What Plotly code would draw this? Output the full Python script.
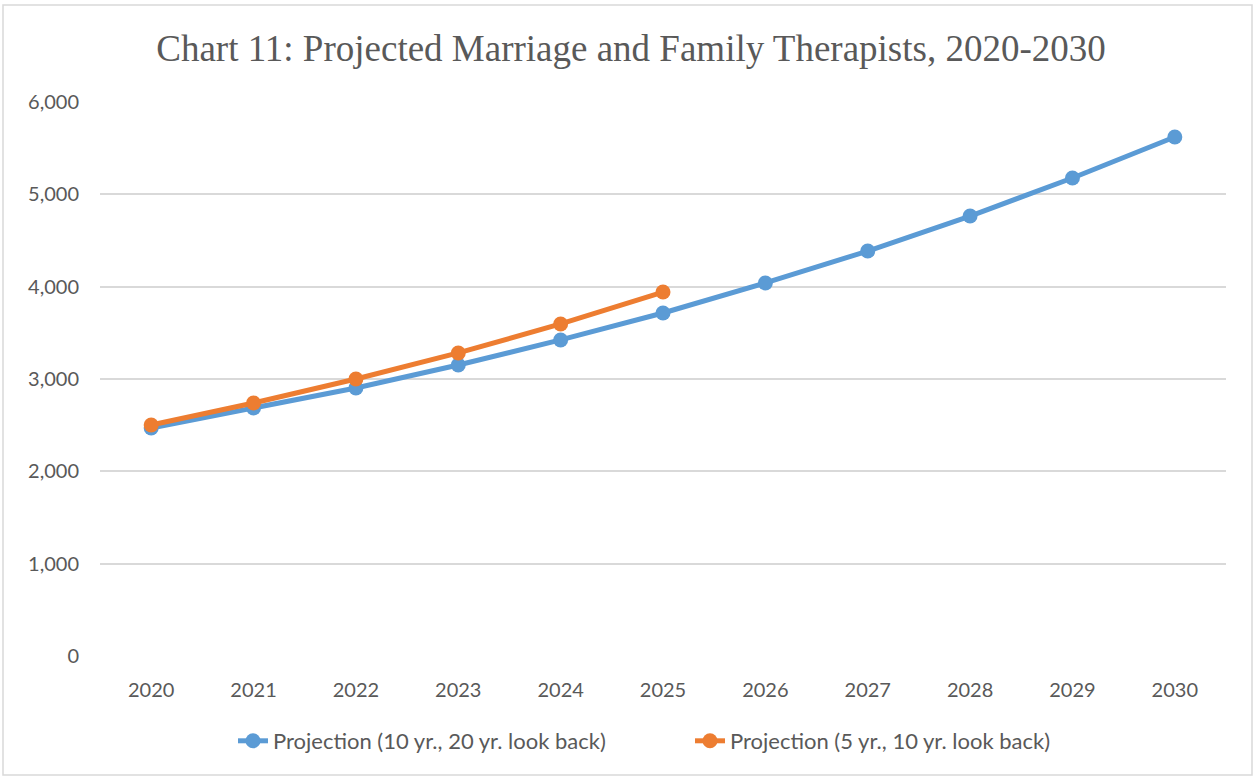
import plotly.graph_objects as go

years = ["2020", "2021", "2022", "2023", "2024", "2025", "2026", "2027", "2028", "2029", "2030"]
proj_10yr = [2469, 2686, 2903, 3152, 3423, 3715, 4040, 4386, 4765, 5177, 5621]
years_5yr = ["2020", "2021", "2022", "2023", "2024", "2025"]
proj_5yr = [2502, 2740, 3000, 3282, 3596, 3942]
y_ticks = [0, 1000, 2000, 3000, 4000, 5000, 6000]

W, H = 1253, 776
ml, mr, mt, mb = 100, 27, 102, 120
pw, ph = W - ml - mr, H - mt - mb

fig = go.Figure()
fig.add_trace(go.Scatter(
    x=years, y=proj_10yr, mode="lines+markers",
    name="Projection (10 yr., 20 yr. look back)",
    line=dict(color="#5B9BD5", width=5),
    marker=dict(color="#5B9BD5", size=15),
))
fig.add_trace(go.Scatter(
    x=years_5yr, y=proj_5yr, mode="lines+markers",
    name="Projection (5 yr., 10 yr. look back)",
    line=dict(color="#ED7D31", width=5),
    marker=dict(color="#ED7D31", size=15),
))

def px_x(p):
    return (p - ml) / pw

def px_y(p):
    return 1 - (p - mt) / ph

fig.update_layout(
    width=W, height=H,
    margin=dict(l=ml, r=mr, t=mt, b=mb),
    paper_bgcolor="white", plot_bgcolor="white",
    title=dict(
        text="Chart 11: Projected Marriage and Family Therapists, 2020-2030",
        font=dict(family="Liberation Serif, Times New Roman, serif", size=37, color="#595959"),
        x=px_x(631), xanchor="center", xref="paper", y=1 - 48 / H, yanchor="middle",
    ),
    xaxis=dict(
        type="category", categoryorder="array", categoryarray=years,
        range=[-0.5, 10.5], showgrid=False, showline=False, zeroline=False,
        ticks="", tickfont=dict(family="Lato, Open Sans, sans-serif", size=20, color="#595959"),
        ticklabelstandoff=20,
    ),
    yaxis=dict(
        range=[0, 6000], tickvals=y_ticks, tickformat=",d",
        showgrid=True, gridcolor="#D9D9D9", gridwidth=1.5,
        zeroline=False, showline=False, ticks="",
        tickfont=dict(family="Lato, Open Sans, sans-serif", size=20, color="#595959"),
        ticklabelstandoff=20,
    ),
    legend=dict(
        orientation="h", x=px_x(233), xanchor="left", y=px_y(741), yanchor="middle",
        font=dict(family="Lato, Open Sans, sans-serif", size=22, color="#595959"),
        entrywidth=412, entrywidthmode="pixels", tracegroupgap=0,
    ),
    shapes=[dict(
        type="rect", xref="paper", yref="paper",
        x0=px_x(3), x1=px_x(1252), y0=px_y(775), y1=px_y(5),
        line=dict(color="#D9D9D9", width=1.5), fillcolor="rgba(0,0,0,0)", layer="below",
    )],
    showlegend=True,
)

fig.write_html(
    "out.html",
    config={"displayModeBar": False},
    post_script="document.body.style.margin='0';document.body.style.overflow='hidden';",
)
